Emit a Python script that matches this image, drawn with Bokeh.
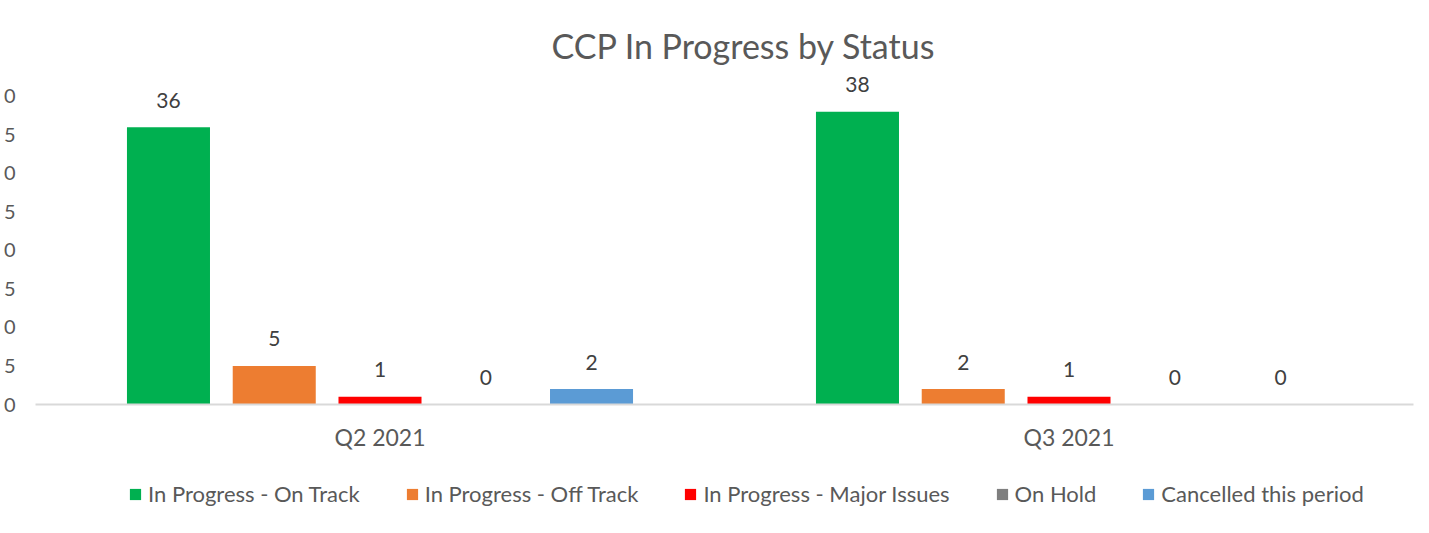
from bokeh.plotting import figure
from bokeh.layouts import column
from bokeh.models import FactorRange, Range1d, FixedTicker, Legend, LegendItem, ColumnDataSource
from bokeh.transform import dodge
from bokeh.core.properties import value
from bokeh.embed import file_html
from bokeh.resources import INLINE

quarters = ["Q2 2021", "Q3 2021"]
statuses = ["In Progress - On Track", "In Progress - Off Track",
            "In Progress - Major Issues", "On Hold", "Cancelled this period"]
on_track = [36, 38]
off_track = [5, 2]
major_issues = [1, 1]
on_hold = [0, 0]
cancelled = [2, 0]
colors = ["#00B050", "#ED7D31", "#FF0000", "#7F7F7F", "#5B9BD5"]
y_ticks = [0, 5, 10, 15, 20, 25, 30, 35, 40]
y_tick_labels = ["0", "5", "0", "5", "0", "5", "0", "5", "0"]

series = [on_track, off_track, major_issues, on_hold, cancelled]
FONT = "Lato"
TXT = "#595959"

p = figure(x_range=FactorRange(factors=quarters, range_padding=0),
           y_range=Range1d(0, 44),
           frame_width=1378, frame_height=339,
           output_backend="svg", toolbar_location=None,
           min_border_left=35, min_border_right=8,
           min_border_top=65, min_border_bottom=56)

p.title.text = "CCP In Progress by Status"
p.title.align = "left"
p.title.offset = 516
p.title.standoff = 0
p.title.text_font = FONT
p.title.text_font_size = "34px"
p.title.text_font_style = "normal"
p.title.text_color = TXT

p.outline_line_color = None
p.xgrid.grid_line_color = None
p.ygrid.grid_line_color = None

step = 0.1535
width = 0.1205
for i, (name, vals, col) in enumerate(zip(statuses, series, colors)):
    src = ColumnDataSource(dict(q=quarters, v=vals, t=[str(v) for v in vals]))
    off = (i - 2) * step
    p.vbar(x=dodge("q", off, range=p.x_range), top="v", width=width,
           source=src, fill_color=col, line_color=None)
    p.text(x=dodge("q", off, range=p.x_range), y="v", text="t", source=src,
           text_align="center", text_baseline="middle", y_offset=-27,
           text_font=value(FONT), text_font_size="21px", text_color="#404040")

# y axis
ya = p.yaxis[0]
ya.ticker = FixedTicker(ticks=y_ticks)
ya.major_label_overrides = {t: l for t, l in zip(y_ticks, y_tick_labels)}
ya.axis_line_color = None
ya.major_tick_line_color = None
ya.minor_tick_line_color = None
ya.major_tick_out = 0
ya.major_tick_in = 0
ya.minor_tick_out = 0
ya.major_label_standoff = 20
ya.major_label_text_font = FONT
ya.major_label_text_font_size = "20px"
ya.major_label_text_color = TXT

# x axis
xa = p.xaxis[0]
xa.axis_line_color = "#D9D9D9"
xa.axis_line_width = 2
xa.major_tick_line_color = None
xa.minor_tick_line_color = None
xa.major_label_standoff = 12
xa.major_label_text_font = FONT
xa.major_label_text_font_size = "23px"
xa.major_label_text_color = TXT

# legend strip below the chart (no axes, legend drawn inside its frame)
lf = figure(width=1421, height=65, x_range=(0, 1), y_range=(0, 1),
            x_axis_location=None, y_axis_location=None,
            output_backend="svg", toolbar_location=None, min_border=0)
lf.outline_line_color = None
lf.grid.visible = False
items = []
for name, col in zip(statuses, colors):
    # zero-height swatch outside the visible range: only its legend glyph shows
    r = lf.vbar(x=[-10], top=[0], width=0.1, fill_color=col, line_color=None)
    items.append(LegendItem(label=name, renderers=[r]))

legend = Legend(items=items, orientation="horizontal", location=(93, 18),
                glyph_width=14, glyph_height=14, label_standoff=6, spacing=45,
                label_text_font=FONT, label_text_font_size="22px",
                label_text_color=TXT, border_line_color=None,
                background_fill_alpha=0, margin=0, padding=0)
lf.add_layout(legend, "center")

layout = column(p, lf, spacing=0)
open("out.html", "w").write(file_html(layout, INLINE))
